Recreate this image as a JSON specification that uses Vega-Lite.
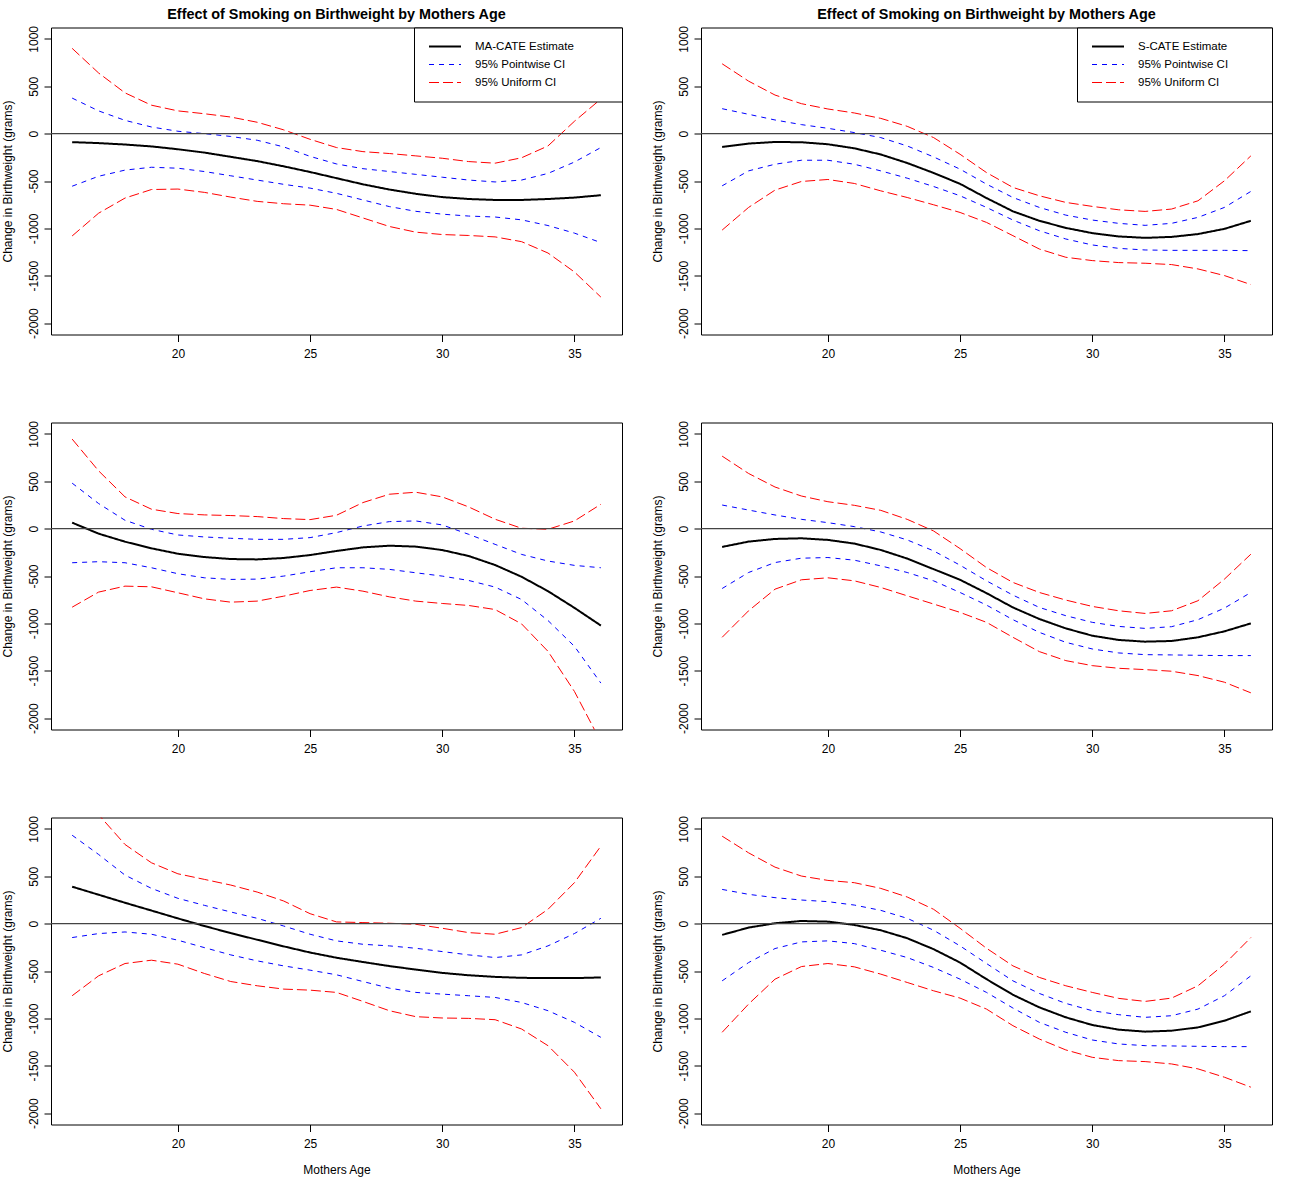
{
 "$schema": "https://vega.github.io/schema/vega-lite/v6.json",
 "background": "white",
 "padding": {"left": 0, "top": 6.5, "right": 5, "bottom": 5},
 "columns": 2,
 "spacing": {"row": 88, "column": 79},
 "bounds": "flush",
 "resolve": {
  "scale": {"color": "independent", "strokeDash": "independent", "strokeWidth": "independent"},
  "legend": {"color": "independent", "strokeDash": "independent", "strokeWidth": "independent"}
 },
 "datasets": {
  "p1": [
   {"a":16,"est":-90,"pl":-555,"ph":375,"ul":-1080,"uh":900},
   {"a":17,"est":-100,"pl":-450,"ph":240,"ul":-840,"uh":640},
   {"a":18,"est":-115,"pl":-385,"ph":140,"ul":-680,"uh":430},
   {"a":19,"est":-135,"pl":-355,"ph":70,"ul":-590,"uh":300},
   {"a":20,"est":-165,"pl":-365,"ph":25,"ul":-585,"uh":240},
   {"a":21,"est":-200,"pl":-400,"ph":0,"ul":-620,"uh":210},
   {"a":22,"est":-245,"pl":-445,"ph":-30,"ul":-670,"uh":175},
   {"a":23,"est":-290,"pl":-490,"ph":-70,"ul":-715,"uh":120},
   {"a":24,"est":-345,"pl":-535,"ph":-140,"ul":-740,"uh":40},
   {"a":25,"est":-405,"pl":-575,"ph":-240,"ul":-755,"uh":-60},
   {"a":26,"est":-470,"pl":-630,"ph":-320,"ul":-800,"uh":-147},
   {"a":27,"est":-535,"pl":-700,"ph":-370,"ul":-890,"uh":-190},
   {"a":28,"est":-590,"pl":-770,"ph":-400,"ul":-980,"uh":-210},
   {"a":29,"est":-635,"pl":-820,"ph":-430,"ul":-1040,"uh":-235},
   {"a":30,"est":-670,"pl":-850,"ph":-460,"ul":-1065,"uh":-260},
   {"a":31,"est":-690,"pl":-870,"ph":-490,"ul":-1075,"uh":-295},
   {"a":32,"est":-700,"pl":-880,"ph":-510,"ul":-1090,"uh":-312},
   {"a":33,"est":-700,"pl":-910,"ph":-490,"ul":-1140,"uh":-255},
   {"a":34,"est":-690,"pl":-970,"ph":-420,"ul":-1260,"uh":-130},
   {"a":35,"est":-675,"pl":-1050,"ph":-300,"ul":-1460,"uh":130},
   {"a":36,"est":-650,"pl":-1150,"ph":-147,"ul":-1725,"uh":365}
  ],
  "p2": [
   {"a":16,"est":-140,"pl":-551,"ph":263,"ul":-1018,"uh":737},
   {"a":17,"est":-105,"pl":-393,"ph":204,"ul":-779,"uh":554},
   {"a":18,"est":-88,"pl":-323,"ph":144,"ul":-596,"uh":407},
   {"a":19,"est":-91,"pl":-281,"ph":95,"ul":-505,"uh":316},
   {"a":20,"est":-112,"pl":-281,"ph":56,"ul":-484,"uh":260},
   {"a":21,"est":-155,"pl":-323,"ph":11,"ul":-526,"uh":218},
   {"a":22,"est":-220,"pl":-393,"ph":-42,"ul":-604,"uh":161},
   {"a":23,"est":-310,"pl":-470,"ph":-130,"ul":-674,"uh":77},
   {"a":24,"est":-415,"pl":-558,"ph":-246,"ul":-751,"uh":-42},
   {"a":25,"est":-530,"pl":-656,"ph":-375,"ul":-832,"uh":-218},
   {"a":26,"est":-680,"pl":-779,"ph":-533,"ul":-937,"uh":-411},
   {"a":27,"est":-820,"pl":-912,"ph":-674,"ul":-1077,"uh":-568},
   {"a":28,"est":-920,"pl":-1025,"ph":-779,"ul":-1218,"uh":-656},
   {"a":29,"est":-995,"pl":-1112,"ph":-860,"ul":-1305,"uh":-726},
   {"a":30,"est":-1050,"pl":-1175,"ph":-912,"ul":-1340,"uh":-768},
   {"a":31,"est":-1085,"pl":-1211,"ph":-947,"ul":-1361,"uh":-804},
   {"a":32,"est":-1100,"pl":-1228,"ph":-968,"ul":-1368,"uh":-821},
   {"a":33,"est":-1090,"pl":-1232,"ph":-947,"ul":-1382,"uh":-796},
   {"a":34,"est":-1060,"pl":-1232,"ph":-884,"ul":-1428,"uh":-709},
   {"a":35,"est":-1005,"pl":-1232,"ph":-779,"ul":-1498,"uh":-498},
   {"a":36,"est":-920,"pl":-1235,"ph":-610,"ul":-1593,"uh":-235}
  ],
  "p3": [
   {"a":16,"est":63,"pl":-360,"ph":480,"ul":-829,"uh":945},
   {"a":17,"est":-53,"pl":-349,"ph":265,"ul":-670,"uh":610},
   {"a":18,"est":-138,"pl":-360,"ph":88,"ul":-607,"uh":335},
   {"a":19,"est":-208,"pl":-413,"ph":-7,"ul":-614,"uh":205},
   {"a":20,"est":-265,"pl":-476,"ph":-67,"ul":-677,"uh":159},
   {"a":21,"est":-300,"pl":-519,"ph":-88,"ul":-741,"uh":145},
   {"a":22,"est":-321,"pl":-536,"ph":-102,"ul":-776,"uh":138},
   {"a":23,"est":-325,"pl":-533,"ph":-113,"ul":-765,"uh":127},
   {"a":24,"est":-310,"pl":-501,"ph":-113,"ul":-713,"uh":106},
   {"a":25,"est":-279,"pl":-455,"ph":-95,"ul":-653,"uh":95},
   {"a":26,"est":-236,"pl":-413,"ph":-42,"ul":-617,"uh":141},
   {"a":27,"est":-198,"pl":-413,"ph":28,"ul":-660,"uh":275},
   {"a":28,"est":-180,"pl":-430,"ph":74,"ul":-720,"uh":363},
   {"a":29,"est":-190,"pl":-466,"ph":81,"ul":-765,"uh":384},
   {"a":30,"est":-226,"pl":-501,"ph":39,"ul":-790,"uh":335},
   {"a":31,"est":-289,"pl":-547,"ph":-60,"ul":-811,"uh":229},
   {"a":32,"est":-384,"pl":-617,"ph":-166,"ul":-854,"uh":99},
   {"a":33,"est":-508,"pl":-748,"ph":-272,"ul":-1005,"uh":4},
   {"a":34,"est":-660,"pl":-970,"ph":-342,"ul":-1295,"uh":-7},
   {"a":35,"est":-836,"pl":-1242,"ph":-388,"ul":-1718,"uh":81},
   {"a":36,"est":-1023,"pl":-1630,"ph":-413,"ul":-2250,"uh":257}
  ],
  "p4": [
   {"a":16,"est":-193,"pl":-632,"ph":249,"ul":-1147,"uh":765},
   {"a":17,"est":-137,"pl":-463,"ph":196,"ul":-867,"uh":582},
   {"a":18,"est":-109,"pl":-358,"ph":144,"ul":-639,"uh":439},
   {"a":19,"est":-102,"pl":-312,"ph":98,"ul":-540,"uh":344},
   {"a":20,"est":-119,"pl":-305,"ph":63,"ul":-519,"uh":284},
   {"a":21,"est":-158,"pl":-333,"ph":21,"ul":-551,"uh":246},
   {"a":22,"est":-225,"pl":-393,"ph":-35,"ul":-621,"uh":193},
   {"a":23,"est":-316,"pl":-463,"ph":-119,"ul":-709,"uh":98},
   {"a":24,"est":-428,"pl":-551,"ph":-235,"ul":-796,"uh":-25},
   {"a":25,"est":-540,"pl":-674,"ph":-386,"ul":-884,"uh":-211},
   {"a":26,"est":-681,"pl":-807,"ph":-551,"ul":-989,"uh":-411},
   {"a":27,"est":-832,"pl":-961,"ph":-702,"ul":-1147,"uh":-568},
   {"a":28,"est":-954,"pl":-1095,"ph":-832,"ul":-1298,"uh":-674},
   {"a":29,"est":-1053,"pl":-1200,"ph":-919,"ul":-1393,"uh":-754},
   {"a":30,"est":-1130,"pl":-1270,"ph":-989,"ul":-1446,"uh":-821},
   {"a":31,"est":-1175,"pl":-1312,"ph":-1032,"ul":-1474,"uh":-867},
   {"a":32,"est":-1193,"pl":-1330,"ph":-1053,"ul":-1488,"uh":-895},
   {"a":33,"est":-1186,"pl":-1333,"ph":-1035,"ul":-1505,"uh":-867},
   {"a":34,"est":-1147,"pl":-1337,"ph":-961,"ul":-1551,"uh":-761},
   {"a":35,"est":-1084,"pl":-1340,"ph":-839,"ul":-1621,"uh":-533},
   {"a":36,"est":-1000,"pl":-1340,"ph":-674,"ul":-1733,"uh":-270}
  ],
  "p5": [
   {"a":16,"est":390,"pl":-147,"ph":933,"ul":-761,"uh":1550},
   {"a":17,"est":305,"pl":-105,"ph":730,"ul":-551,"uh":1150},
   {"a":18,"est":220,"pl":-88,"ph":512,"ul":-421,"uh":835},
   {"a":19,"est":138,"pl":-112,"ph":372,"ul":-386,"uh":642},
   {"a":20,"est":55,"pl":-175,"ph":267,"ul":-428,"uh":526},
   {"a":21,"est":-25,"pl":-253,"ph":193,"ul":-526,"uh":467},
   {"a":22,"est":-100,"pl":-330,"ph":123,"ul":-611,"uh":407},
   {"a":23,"est":-170,"pl":-393,"ph":56,"ul":-656,"uh":333},
   {"a":24,"est":-240,"pl":-446,"ph":-25,"ul":-691,"uh":239},
   {"a":25,"est":-305,"pl":-491,"ph":-112,"ul":-702,"uh":105},
   {"a":26,"est":-360,"pl":-540,"ph":-182,"ul":-726,"uh":18},
   {"a":27,"est":-405,"pl":-611,"ph":-218,"ul":-821,"uh":11},
   {"a":28,"est":-448,"pl":-681,"ph":-235,"ul":-919,"uh":4},
   {"a":29,"est":-485,"pl":-726,"ph":-260,"ul":-982,"uh":-7},
   {"a":30,"est":-520,"pl":-744,"ph":-295,"ul":-996,"uh":-49},
   {"a":31,"est":-545,"pl":-761,"ph":-330,"ul":-1000,"uh":-95},
   {"a":32,"est":-562,"pl":-779,"ph":-358,"ul":-1014,"uh":-112},
   {"a":33,"est":-572,"pl":-832,"ph":-330,"ul":-1112,"uh":-42},
   {"a":34,"est":-575,"pl":-919,"ph":-235,"ul":-1288,"uh":151},
   {"a":35,"est":-575,"pl":-1042,"ph":-105,"ul":-1568,"uh":432},
   {"a":36,"est":-568,"pl":-1200,"ph":56,"ul":-1954,"uh":818}
  ],
  "p6": [
   {"a":16,"est":-119,"pl":-604,"ph":361,"ul":-1147,"uh":923},
   {"a":17,"est":-42,"pl":-411,"ph":309,"ul":-849,"uh":747},
   {"a":18,"est":4,"pl":-263,"ph":274,"ul":-586,"uh":596},
   {"a":19,"est":28,"pl":-193,"ph":249,"ul":-453,"uh":502},
   {"a":20,"est":21,"pl":-182,"ph":232,"ul":-421,"uh":456},
   {"a":21,"est":-14,"pl":-211,"ph":196,"ul":-456,"uh":432},
   {"a":22,"est":-70,"pl":-281,"ph":140,"ul":-533,"uh":372},
   {"a":23,"est":-154,"pl":-358,"ph":56,"ul":-621,"uh":281},
   {"a":24,"est":-270,"pl":-463,"ph":-70,"ul":-709,"uh":151},
   {"a":25,"est":-411,"pl":-586,"ph":-235,"ul":-786,"uh":-49},
   {"a":26,"est":-586,"pl":-726,"ph":-421,"ul":-902,"uh":-260},
   {"a":27,"est":-751,"pl":-891,"ph":-604,"ul":-1077,"uh":-446},
   {"a":28,"est":-884,"pl":-1042,"ph":-737,"ul":-1218,"uh":-568},
   {"a":29,"est":-989,"pl":-1147,"ph":-842,"ul":-1333,"uh":-656},
   {"a":30,"est":-1070,"pl":-1228,"ph":-919,"ul":-1411,"uh":-726},
   {"a":31,"est":-1119,"pl":-1270,"ph":-961,"ul":-1446,"uh":-789},
   {"a":32,"est":-1140,"pl":-1288,"ph":-989,"ul":-1456,"uh":-821},
   {"a":33,"est":-1130,"pl":-1291,"ph":-972,"ul":-1481,"uh":-786},
   {"a":34,"est":-1095,"pl":-1295,"ph":-902,"ul":-1533,"uh":-656},
   {"a":35,"est":-1025,"pl":-1298,"ph":-761,"ul":-1621,"uh":-428},
   {"a":36,"est":-926,"pl":-1298,"ph":-551,"ul":-1726,"uh":-147}
  ]
 },
 "concat": [
  {
   "width": 571, "height": 307,
   "title": "Effect of Smoking on Birthweight by Mothers Age",
   "data": {"name": "p1"},
   "layer": [
    {
     "transform": [{"fold": ["est","pl","ph","ul","uh"], "as": ["series","value"]}],
     "mark": {"type": "line", "clip": true},
     "encoding": {
      "x": {"field": "a", "type": "quantitative", "scale": {"domain": [15.2, 36.8], "nice": false, "zero": false}, "axis": {"values": [20,25,30,35], "title": null}},
      "y": {"field": "value", "type": "quantitative", "title": "Change in Birthweight (grams)", "scale": {"domain": [-2120, 1120], "nice": false, "zero": false}, "axis": {"values": [-2000,-1500,-1000,-500,0,500,1000], "labelExpr": "'' + datum.value"}},
      "color": {"field": "series", "type": "nominal", "title": null, "scale": {"domain": ["est","pl","ul","ph","uh"], "range": ["black","blue","red","blue","red"]}, "legend": {"values": ["est","pl","ul"], "labelExpr": "datum.value == 'est' ? 'MA-CATE Estimate\u00a0\u00a0\u00a0\u00a0\u00a0\u00a0\u00a0\u00a0\u00a0\u2800' : datum.value == 'pl' ? '95% Pointwise CI' : '95% Uniform CI'", "encoding": {"symbols": {"stroke": {"value": {"expr": "datum.value == 'est' ? 'black' : datum.value == 'pl' ? 'blue' : 'red'"}}, "strokeDash": {"value": {"expr": "datum.value == 'est' ? [1,0] : datum.value == 'pl' ? [5,5] : [10,4]"}}, "strokeWidth": {"value": {"expr": "datum.value == 'est' ? 2 : 1"}}}}}},
      "strokeDash": {"field": "series", "type": "nominal", "title": null, "scale": {"domain": ["est","pl","ul","ph","uh"], "range": [[1,0],[5,5],[10,4],[5,5],[10,4]]}, "legend": {"values": ["est","pl","ul"]}},
      "strokeWidth": {"field": "series", "type": "nominal", "title": null, "scale": {"type": "ordinal", "domain": ["est","pl","ul","ph","uh"], "range": [2,1,1,1,1]}, "legend": {"values": ["est","pl","ul"]}}
     }
    },
    {
     "data": {"values": [{"z": 0}]},
     "mark": {"type": "rule", "color": "#444", "strokeWidth": 1.2},
     "encoding": {"y": {"field": "z", "type": "quantitative", "title": "Change in Birthweight (grams)"}}
    }
   ]
  },
  {
   "width": 571, "height": 307,
   "title": "Effect of Smoking on Birthweight by Mothers Age",
   "data": {"name": "p2"},
   "layer": [
    {
     "transform": [{"fold": ["est","pl","ph","ul","uh"], "as": ["series","value"]}],
     "mark": {"type": "line", "clip": true},
     "encoding": {
      "x": {"field": "a", "type": "quantitative", "scale": {"domain": [15.2, 36.8], "nice": false, "zero": false}, "axis": {"values": [20,25,30,35], "title": null}},
      "y": {"field": "value", "type": "quantitative", "title": "Change in Birthweight (grams)", "scale": {"domain": [-2120, 1120], "nice": false, "zero": false}, "axis": {"values": [-2000,-1500,-1000,-500,0,500,1000], "labelExpr": "'' + datum.value"}},
      "color": {"field": "series", "type": "nominal", "title": null, "scale": {"domain": ["est","pl","ul","ph","uh"], "range": ["black","blue","red","blue","red"]}, "legend": {"values": ["est","pl","ul"], "labelExpr": "datum.value == 'est' ? 'S-CATE Estimate\u00a0\u00a0\u00a0\u00a0\u00a0\u00a0\u00a0\u00a0\u2800' : datum.value == 'pl' ? '95% Pointwise CI' : '95% Uniform CI'", "encoding": {"symbols": {"stroke": {"value": {"expr": "datum.value == 'est' ? 'black' : datum.value == 'pl' ? 'blue' : 'red'"}}, "strokeDash": {"value": {"expr": "datum.value == 'est' ? [1,0] : datum.value == 'pl' ? [5,5] : [10,4]"}}, "strokeWidth": {"value": {"expr": "datum.value == 'est' ? 2 : 1"}}}}}},
      "strokeDash": {"field": "series", "type": "nominal", "title": null, "scale": {"domain": ["est","pl","ul","ph","uh"], "range": [[1,0],[5,5],[10,4],[5,5],[10,4]]}, "legend": {"values": ["est","pl","ul"]}},
      "strokeWidth": {"field": "series", "type": "nominal", "title": null, "scale": {"type": "ordinal", "domain": ["est","pl","ul","ph","uh"], "range": [2,1,1,1,1]}, "legend": {"values": ["est","pl","ul"]}}
     }
    },
    {
     "data": {"values": [{"z": 0}]},
     "mark": {"type": "rule", "color": "#444", "strokeWidth": 1.2},
     "encoding": {"y": {"field": "z", "type": "quantitative", "title": "Change in Birthweight (grams)"}}
    }
   ]
  },
  {
   "width": 571, "height": 307,
   "data": {"name": "p3"},
   "layer": [
    {
     "transform": [{"fold": ["est","pl","ph","ul","uh"], "as": ["series","value"]}],
     "mark": {"type": "line", "clip": true},
     "encoding": {
      "x": {"field": "a", "type": "quantitative", "scale": {"domain": [15.2, 36.8], "nice": false, "zero": false}, "axis": {"values": [20,25,30,35], "title": null}},
      "y": {"field": "value", "type": "quantitative", "title": "Change in Birthweight (grams)", "scale": {"domain": [-2120, 1120], "nice": false, "zero": false}, "axis": {"values": [-2000,-1500,-1000,-500,0,500,1000], "labelExpr": "'' + datum.value"}},
      "color": {"field": "series", "type": "nominal", "title": null, "scale": {"domain": ["est","pl","ul","ph","uh"], "range": ["black","blue","red","blue","red"]}, "legend": null},
      "strokeDash": {"field": "series", "type": "nominal", "title": null, "scale": {"domain": ["est","pl","ul","ph","uh"], "range": [[1,0],[5,5],[10,4],[5,5],[10,4]]}, "legend": null},
      "strokeWidth": {"field": "series", "type": "nominal", "title": null, "scale": {"type": "ordinal", "domain": ["est","pl","ul","ph","uh"], "range": [2,1,1,1,1]}, "legend": null}
     }
    },
    {
     "data": {"values": [{"z": 0}]},
     "mark": {"type": "rule", "color": "#444", "strokeWidth": 1.2},
     "encoding": {"y": {"field": "z", "type": "quantitative", "title": "Change in Birthweight (grams)"}}
    }
   ]
  },
  {
   "width": 571, "height": 307,
   "data": {"name": "p4"},
   "layer": [
    {
     "transform": [{"fold": ["est","pl","ph","ul","uh"], "as": ["series","value"]}],
     "mark": {"type": "line", "clip": true},
     "encoding": {
      "x": {"field": "a", "type": "quantitative", "scale": {"domain": [15.2, 36.8], "nice": false, "zero": false}, "axis": {"values": [20,25,30,35], "title": null}},
      "y": {"field": "value", "type": "quantitative", "title": "Change in Birthweight (grams)", "scale": {"domain": [-2120, 1120], "nice": false, "zero": false}, "axis": {"values": [-2000,-1500,-1000,-500,0,500,1000], "labelExpr": "'' + datum.value"}},
      "color": {"field": "series", "type": "nominal", "title": null, "scale": {"domain": ["est","pl","ul","ph","uh"], "range": ["black","blue","red","blue","red"]}, "legend": null},
      "strokeDash": {"field": "series", "type": "nominal", "title": null, "scale": {"domain": ["est","pl","ul","ph","uh"], "range": [[1,0],[5,5],[10,4],[5,5],[10,4]]}, "legend": null},
      "strokeWidth": {"field": "series", "type": "nominal", "title": null, "scale": {"type": "ordinal", "domain": ["est","pl","ul","ph","uh"], "range": [2,1,1,1,1]}, "legend": null}
     }
    },
    {
     "data": {"values": [{"z": 0}]},
     "mark": {"type": "rule", "color": "#444", "strokeWidth": 1.2},
     "encoding": {"y": {"field": "z", "type": "quantitative", "title": "Change in Birthweight (grams)"}}
    }
   ]
  },
  {
   "width": 571, "height": 307,
   "data": {"name": "p5"},
   "layer": [
    {
     "transform": [{"fold": ["est","pl","ph","ul","uh"], "as": ["series","value"]}],
     "mark": {"type": "line", "clip": true},
     "encoding": {
      "x": {"field": "a", "type": "quantitative", "scale": {"domain": [15.2, 36.8], "nice": false, "zero": false}, "axis": {"values": [20,25,30,35], "title": "Mothers Age"}},
      "y": {"field": "value", "type": "quantitative", "title": "Change in Birthweight (grams)", "scale": {"domain": [-2120, 1120], "nice": false, "zero": false}, "axis": {"values": [-2000,-1500,-1000,-500,0,500,1000], "labelExpr": "'' + datum.value"}},
      "color": {"field": "series", "type": "nominal", "title": null, "scale": {"domain": ["est","pl","ul","ph","uh"], "range": ["black","blue","red","blue","red"]}, "legend": null},
      "strokeDash": {"field": "series", "type": "nominal", "title": null, "scale": {"domain": ["est","pl","ul","ph","uh"], "range": [[1,0],[5,5],[10,4],[5,5],[10,4]]}, "legend": null},
      "strokeWidth": {"field": "series", "type": "nominal", "title": null, "scale": {"type": "ordinal", "domain": ["est","pl","ul","ph","uh"], "range": [2,1,1,1,1]}, "legend": null}
     }
    },
    {
     "data": {"values": [{"z": 0}]},
     "mark": {"type": "rule", "color": "#444", "strokeWidth": 1.2},
     "encoding": {"y": {"field": "z", "type": "quantitative", "title": "Change in Birthweight (grams)"}}
    }
   ]
  },
  {
   "width": 571, "height": 307,
   "data": {"name": "p6"},
   "layer": [
    {
     "transform": [{"fold": ["est","pl","ph","ul","uh"], "as": ["series","value"]}],
     "mark": {"type": "line", "clip": true},
     "encoding": {
      "x": {"field": "a", "type": "quantitative", "scale": {"domain": [15.2, 36.8], "nice": false, "zero": false}, "axis": {"values": [20,25,30,35], "title": "Mothers Age"}},
      "y": {"field": "value", "type": "quantitative", "title": "Change in Birthweight (grams)", "scale": {"domain": [-2120, 1120], "nice": false, "zero": false}, "axis": {"values": [-2000,-1500,-1000,-500,0,500,1000], "labelExpr": "'' + datum.value"}},
      "color": {"field": "series", "type": "nominal", "title": null, "scale": {"domain": ["est","pl","ul","ph","uh"], "range": ["black","blue","red","blue","red"]}, "legend": null},
      "strokeDash": {"field": "series", "type": "nominal", "title": null, "scale": {"domain": ["est","pl","ul","ph","uh"], "range": [[1,0],[5,5],[10,4],[5,5],[10,4]]}, "legend": null},
      "strokeWidth": {"field": "series", "type": "nominal", "title": null, "scale": {"type": "ordinal", "domain": ["est","pl","ul","ph","uh"], "range": [2,1,1,1,1]}, "legend": null}
     }
    },
    {
     "data": {"values": [{"z": 0}]},
     "mark": {"type": "rule", "color": "#444", "strokeWidth": 1.2},
     "encoding": {"y": {"field": "z", "type": "quantitative", "title": "Change in Birthweight (grams)"}}
    }
   ]
  }
 ],
 "config": {
  "font": "Liberation Sans",
  "view": {"stroke": "black", "strokeWidth": 1},
  "axis": {
   "grid": false, "domain": false,
   "tickColor": "black", "tickSize": 7, "tickWidth": 1,
   "labelFont": "Liberation Sans", "labelFontSize": 12, "labelColor": "black",
   "titleFont": "Liberation Sans", "titleFontSize": 12, "titleColor": "black", "titleFontWeight": "normal"
  },
  "axisY": {
   "labelAngle": 270, "labelAlign": "center", "labelBaseline": "alphabetic", "labelPadding": 7,
   "titleAngle": 270, "titleBaseline": "alphabetic", "titleX": -40
  },
  "axisX": {
   "labelBaseline": "alphabetic", "labelPadding": 16, "labelFlush": false,
   "titleBaseline": "alphabetic", "titleY": 48.5
  },
  "title": {
   "font": "Liberation Sans", "fontSize": 14.4, "fontWeight": "bold", "color": "black",
   "anchor": "middle", "baseline": "alphabetic", "offset": 3, "frame": "group"
  },
  "legend": {
   "orient": "top-right", "offset": 0, "padding": 10,
   "fillColor": "white", "strokeColor": "black",
   "symbolType": "stroke", "symbolSize": 1024, "clipHeight": 18, "rowPadding": 0,
   "symbolOffset": 4, "labelOffset": 13,
   "labelFont": "Liberation Sans", "labelFontSize": 11.5, "labelColor": "black", "labelLimit": 400
  }
 }
}
